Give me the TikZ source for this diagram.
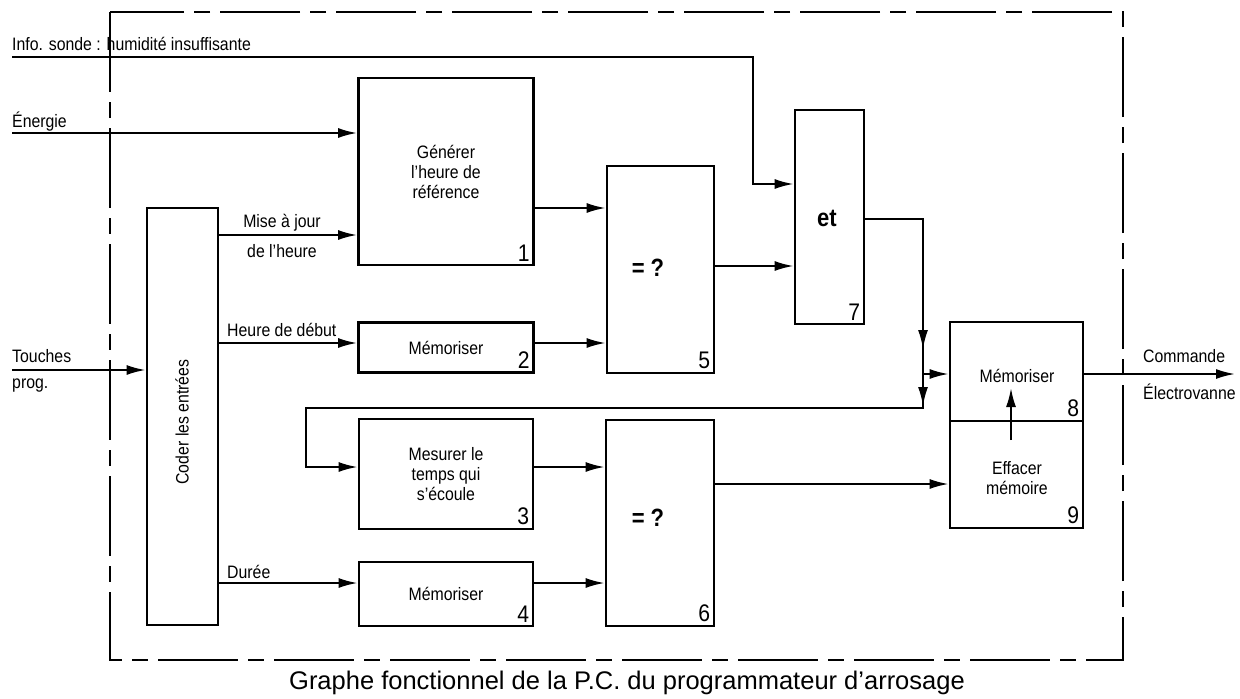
\documentclass[tikz,border=0pt]{standalone}
\usepackage{fontspec}
\setmainfont{Liberation Sans}[FakeStretch=0.88]
\newfontfamily\capfont{Liberation Sans}
\usetikzlibrary{arrows.meta}
\begin{document}
\begin{tikzpicture}[x=1pt,y=-1pt,
  box/.style={draw, line width=2.8pt, inner sep=0pt, align=center, font=\fontsize{18}{20}\selectfont},
  conn/.style={line width=2pt},
  arr/.style={conn, -{Latex[length=19pt,width=10pt]}},
  lbl/.style={inner sep=0pt, font=\fontsize{18}{20}\selectfont},
  num/.style={anchor=south east, inner sep=0pt, font=\fontsize{24}{24}\selectfont},
  big/.style={font=\fontsize{25}{25}\selectfont\bfseries}
]
\useasboundingbox (0,0) rectangle (1240,699);
% frame
\draw[line width=2.2pt, dash pattern=on 80pt off 10pt on 16pt off 10pt] (110,12) rectangle (1123,660);
% boxes
\node[box, minimum width=175pt, minimum height=187pt] (b1) at (446,171.5) {Générer\\l'heure de\\référence};
\node[box, minimum width=71pt, minimum height=417pt] (coder) at (182.5,416.5) {};
\node[lbl, rotate=90] at (182,422) {Coder les entrées};
\node[box, minimum width=175pt, minimum height=50pt] (b2) at (446,347.5) {Mémoriser};
\node[box, minimum width=174pt, minimum height=110pt] (b3) at (446,474) {Mesurer le\\temps qui\\s'écoule};
\node[box, minimum width=174pt, minimum height=64pt] (b4) at (446,594) {Mémoriser};
\node[box, minimum width=107pt, minimum height=207pt] (b5) at (660.5,269.5) {};
\node[big] at (648,268) {= ?};
\node[box, minimum width=108pt, minimum height=206pt] (b6) at (660,523) {};
\node[big] at (648,518) {= ?};
\node[box, minimum width=69pt, minimum height=214pt] (b7) at (829.5,217) {};
\node[big] at (827,218) {et};
\node[box, minimum width=133pt, minimum height=99pt] (b8) at (1016.5,371.5) {};
\node[lbl] at (1017,376) {Mémoriser};
\node[box, minimum width=133pt, minimum height=107pt] (b9) at (1016.5,474.5) {};
\node[lbl, align=center] at (1017,478) {Effacer\\mémoire};
% numbers
\foreach \b/\n in {b1/1,b2/2,b3/3,b4/4,b5/5,b6/6,b7/7,b8/8,b9/9}
  \node[num] at ([xshift=-5pt,yshift=5pt]\b.south east) {\n};
% labels
\node[lbl, anchor=base west] at (12,50) {Info. sonde : humidité insuffisante};
\node[lbl, anchor=base west] at (12,127) {Énergie};
\node[lbl, anchor=base west] at (12,362) {Touches};
\node[lbl, anchor=base west] at (12,388) {prog.};
\node[lbl, anchor=base] at (282,227) {Mise à jour};
\node[lbl, anchor=base] at (282,257) {de l'heure};
\node[lbl, anchor=base west] at (227,336) {Heure de début};
\node[lbl, anchor=base west] at (227,578) {Durée};
\node[lbl, anchor=base west] at (1143,362) {Commande};
\node[lbl, anchor=base west] at (1143,399) {Électrovanne};
\node[inner sep=0pt, font=\capfont\fontsize{25.5}{26}\selectfont] at (627,683) {Graphe fonctionnel de la P.C. du programmateur d’arrosage};
% coordinates
\coordinate (sIn) at (12,57);
\coordinate (sC) at (753,57);
\coordinate (eIn) at (12,133);
\coordinate (tIn) at (12,370);
\coordinate (j1) at (923,219);
\coordinate (j2) at (923,374);
\coordinate (j3) at (923,408);
\coordinate (j4) at (306,408);
\coordinate (out) at (1235,374);
\coordinate (iA) at (1011,440);
\coordinate (iB) at (1011,388);
% connectors
\draw[arr] (sIn) -- (sC) -- (753,184) -- (b7.west |- 0,184);
\draw[arr] (eIn) -- (b1.west |- eIn);
\draw[arr] (tIn) -- (coder.west |- tIn);
\draw[arr] (coder.east |- 0,235) -- (b1.west |- 0,235);
\draw[arr] (coder.east |- 0,343) -- (b2.west |- 0,343);
\draw[arr] (coder.east |- 0,583) -- (b4.west |- 0,583);
\draw[arr] (b1.east |- 0,208) -- (b5.west |- 0,208);
\draw[arr] (b2.east |- 0,343) -- (b5.west |- 0,343);
\draw[arr] (b3.east |- 0,467) -- (b6.west |- 0,467);
\draw[arr] (b4.east |- 0,583) -- (b6.west |- 0,583);
\draw[arr] (b5.east |- 0,266) -- (b7.west |- 0,266);
\draw[arr] (b7.east |- j1) -- (j1) -- (j3) -- (j4) -- (306,467) -- (b3.west |- 0,467);
\draw[arr] (j1) -- (923,349);
\draw[arr] (j2) -- (923,406);
\draw[arr] (j2) -- (b8.west |- j2);
\draw[arr] (b8.east |- out) -- (out);
\draw[arr] (b6.east |- 0,484) -- (b9.west |- 0,484);
\draw[arr] (iA) -- (iB);
\end{tikzpicture}
\end{document}
